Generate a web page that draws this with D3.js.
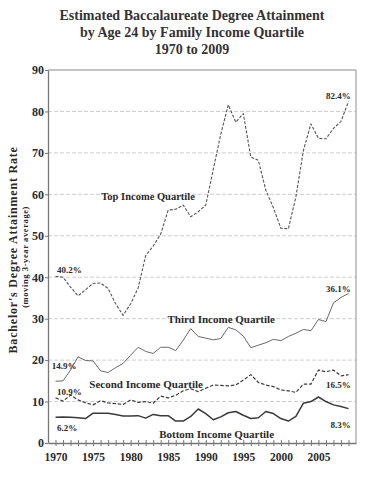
<!DOCTYPE html>
<html>
<head>
<meta charset="utf-8">
<script src="https://cdn.jsdelivr.net/npm/d3@7"></script>
<style>
   body { margin: 0; background: #fff; }
   text { fill: #2a2a2a; font-family: "Liberation Serif", serif; }
   .axis path, .axis line { stroke: #777; }
</style>
</head>
<body>
<div class="line-chart-container"></div>
<script>
// bachelor's degree attainment by age 24, 1970-2009, moving 3-year average
const years = d3.range(1970, 2010);

const top_quartile = [40.2, 40.0, 37.6, 35.5, 37.0, 38.5, 38.6, 37.3, 33.6, 30.8,
   33.6, 37.4, 45.2, 47.5, 50.4, 56.2, 56.4, 57.4, 54.6, 55.8,
   57.4, 66.0, 74.5, 81.6, 77.4, 79.5, 69.0, 68.2, 61.0, 56.8,
   51.8, 51.7, 59.4, 70.6, 77.0, 73.5, 73.4, 75.9, 77.6, 82.4];

const third_quartile = [14.9, 15.0, 17.6, 20.8, 19.9, 19.8, 17.4, 17.0, 18.2, 19.2,
   21.2, 23.1, 22.1, 21.6, 23.1, 23.1, 22.3, 24.8, 27.6, 25.7,
   25.3, 24.9, 25.2, 27.9, 27.3, 25.8, 23.0, 23.6, 24.2, 25.0,
   24.7, 25.7, 26.5, 27.4, 27.1, 29.8, 29.3, 33.8, 35.1, 36.1];

const second_quartile = [10.9, 10.1, 11.6, 10.4, 9.7, 9.2, 10.2, 9.7, 9.5, 9.3,
   10.4, 9.8, 10.0, 9.6, 11.3, 10.9, 11.5, 12.6, 13.1, 12.4,
   13.2, 14.0, 13.9, 13.8, 14.0, 15.2, 16.5, 14.6, 14.0, 13.6,
   12.8, 12.6, 12.2, 14.2, 14.2, 17.6, 17.2, 17.6, 16.2, 16.5];

const bottom_quartile = [6.2, 6.3, 6.2, 6.1, 5.9, 7.2, 7.2, 7.2, 6.9, 6.5,
   6.5, 6.6, 6.0, 6.9, 6.6, 6.6, 5.3, 5.3, 6.4, 8.2,
   7.1, 5.6, 6.3, 7.3, 7.6, 6.7, 5.9, 6.1, 7.6, 7.1,
   5.9, 5.3, 6.4, 9.6, 10.0, 11.1, 10.0, 9.2, 8.8, 8.3];

const y_ticks = [0, 10, 20, 30, 40, 50, 60, 70, 80, 90];
const x_tick_labels = [1970, 1975, 1980, 1985, 1990, 1995, 2000, 2005];

const title_lines = [
   'Estimated Baccalaureate Degree Attainment',
   'by Age 24 by Family Income Quartile',
   '1970 to 2009'
];

// name labels sit inside the plot, anchored in data units
const series_names = ['Top Income Quartile', 'Third Income Quartile',
   'Second Income Quartile', 'Bottom Income Quartile'];
const name_anchor_year = [1976.1, 1984.9, 1974.5, 1983.8];
const name_anchor_value = [58.6, 29.0, 13.2, 1.3];

// first and last value labels
const start_anchor_year = [1970.2, 1969.5, 1970.2, 1970.2];
const start_anchor_value = [41.0, 17.9, 11.5, 2.9];
const end_anchor_value = [83.0, 36.4, 13.2, 3.5];

function build_series() {
   const all = [top_quartile, third_quartile, second_quartile, bottom_quartile];
   const dash = ['3,1.6', null, '3.5,1.8', null];
   const color = ['#555', '#6a6a6a', '#3a3a3a', '#3a3a3a'];
   const width = [1.1, 1.0, 1.2, 1.5];
   return all.map((vals, i) => ({
      name: series_names[i],
      values: vals.map((v, j) => ({year: years[j], value: v})),
      dash: dash[i],
      color: color[i],
      width: width[i],
      name_year: name_anchor_year[i],
      name_value: name_anchor_value[i],
      start_year: start_anchor_year[i],
      start_value: start_anchor_value[i],
      end_value: end_anchor_value[i]
   }));
}

function build_chart_container(margin, width, height) {
   const svg = d3.select('.line-chart-container')
      .append('svg')
      .attr('width', width + margin.left + margin.right)
      .attr('height', height + margin.top + margin.bottom);

   return svg;
}

function draw_title(svg) {
   svg.append('g')
      .selectAll('text')
      .data(title_lines)
      .enter()
      .append('text')
      .attr('x', 192)
      .attr('y', (d, i) => 20 + i * 17)
      .attr('text-anchor', 'middle')
      .style('font-size', '14px')
      .style('font-weight', 'bold')
      .style('fill', '#333')
      .text(d => d);
}

function draw_grid(container, x_scale, y_scale, width) {
   container.append('g')
      .attr('class', 'grid')
      .selectAll('line')
      .data(y_ticks.filter(d => d > 0))
      .enter()
      .append('line')
      .attr('x1', 0)
      .attr('x2', width)
      .attr('y1', d => y_scale(d))
      .attr('y2', d => y_scale(d))
      .style('stroke', d => d === 90 ? '#8a8a8a' : '#c8c8c8')
      .style('stroke-width', d => d === 90 ? 1.2 : 0.9)
      .style('stroke-dasharray', d => d === 90 ? null : '4,2');

   // right frame
   container.append('line')
      .attr('x1', width).attr('x2', width)
      .attr('y1', y_scale(90)).attr('y2', y_scale(0))
      .style('stroke', '#a0a0a0')
      .style('stroke-width', 1.2);
}

function draw_axes(container, x_scale, y_scale, height) {
   const y_axis = d3.axisLeft(y_scale)
      .tickValues(y_ticks)
      .tickSize(3)
      .tickSizeOuter(0);

   const y_g = container.append('g')
      .attr('class', 'y axis')
      .call(y_axis);
   y_g.select('.domain').style('stroke-width', 1.3);
   y_g.selectAll('text')
      .style('font-size', '12px')
      .style('font-weight', 'bold')
      .style('font-family', '"Liberation Serif", serif')
      .attr('x', -4);

   const x_axis = d3.axisBottom(x_scale)
      .tickValues(years)
      .tickSize(6)
      .tickSizeOuter(0)
      .tickFormat(d => x_tick_labels.includes(d) ? d : '');

   const x_g = container.append('g')
      .attr('class', 'x axis')
      .attr('transform', `translate(0, ${height})`)
      .call(x_axis);
   x_g.select('.domain').style('stroke-width', 1.3);
   // ticks cross the axis like little plus signs
   x_g.selectAll('.tick line').attr('y1', -3).attr('y2', 3);
   x_g.selectAll('text')
      .attr('y', 10)
      .style('font-size', '11.5px')
      .style('font-weight', 'bold')
      .style('font-family', '"Liberation Serif", serif');
}

function draw_lines(container, line_gen, series) {
   return container.append('g')
      .attr('class', 'line-chart')
      .selectAll('.line-series')
      .data(series)
      .enter()
      .append('path')
      .attr('class', 'line-series')
      .attr('d', d => line_gen(d.values))
      .style('fill', 'none')
      .style('stroke', d => d.color)
      .style('stroke-width', d => d.width)
      .style('stroke-dasharray', d => d.dash)
      .style('stroke-linejoin', 'round');
}

function add_series_labels(container, series, x_scale, y_scale) {
   const g = container.append('g').attr('class', 'series-labels');

   g.selectAll('.name')
      .data(series)
      .enter()
      .append('text')
      .attr('x', d => x_scale(d.name_year))
      .attr('y', d => y_scale(d.name_value))
      .style('font-size', (d, i) => i === 0 ? '10.5px' : '11px')
      .style('font-weight', 'bold')
      .text(d => d.name);

   g.selectAll('.start')
      .data(series)
      .enter()
      .append('text')
      .attr('x', d => x_scale(d.start_year))
      .attr('y', d => y_scale(d.start_value))
      .style('font-size', '9px')
      .style('font-weight', 'bold')
      .text(d => d3.format('.1f')(d.values[0].value) + '%');

   g.selectAll('.end')
      .data(series)
      .enter()
      .append('text')
      .attr('x', x_scale(2009.3))
      .attr('y', d => y_scale(d.end_value))
      .attr('text-anchor', 'end')
      .style('font-size', '9px')
      .style('font-weight', 'bold')
      .text(d => d3.format('.1f')(d.values[d.values.length - 1].value) + '%');
}

function draw_y_title(svg, margin, y_scale) {
   svg.append('text')
      .attr('transform', `translate(17, ${margin.top + y_scale(46.6)}) rotate(-90)`)
      .attr('text-anchor', 'middle')
      .style('font-size', '12px')
      .style('font-weight', 'bold')
      .style('letter-spacing', '0.8px')
      .text("Bachelor's Degree Attainment Rate");
   svg.append('text')
      .attr('transform', `translate(27.5, ${margin.top + y_scale(44.9)}) rotate(-90)`)
      .attr('text-anchor', 'middle')
      .style('font-size', '8.5px')
      .style('font-weight', 'bold')
      .style('letter-spacing', '0.6px')
      .text('(moving 3-year average)');
}

function line_chart_main() {
   const margin = {top: 70, bottom: 37, left: 48, right: 26};
   const width = 382 - margin.left - margin.right;
   const height = 480 - margin.top - margin.bottom;

   const series = build_series();

   const x_scale = d3.scaleLinear()
      .domain([1969, 2010])
      .range([0, width]);
   const y_scale = d3.scaleLinear()
      .domain([0, 90])
      .range([height, 0]);

   const svg = build_chart_container(margin, width, height);
   draw_title(svg);
   draw_y_title(svg, margin, y_scale);

   const container = svg.append('g')
      .attr('transform', `translate(${margin.left}, ${margin.top})`);

   draw_grid(container, x_scale, y_scale, width);
   const line_gen = d3.line()
      .x(d => x_scale(d.year))
      .y(d => y_scale(d.value));
   draw_lines(container, line_gen, series);
   draw_axes(container, x_scale, y_scale, height);
   add_series_labels(container, series, x_scale, y_scale);
}

line_chart_main();
</script>
</body>
</html>
